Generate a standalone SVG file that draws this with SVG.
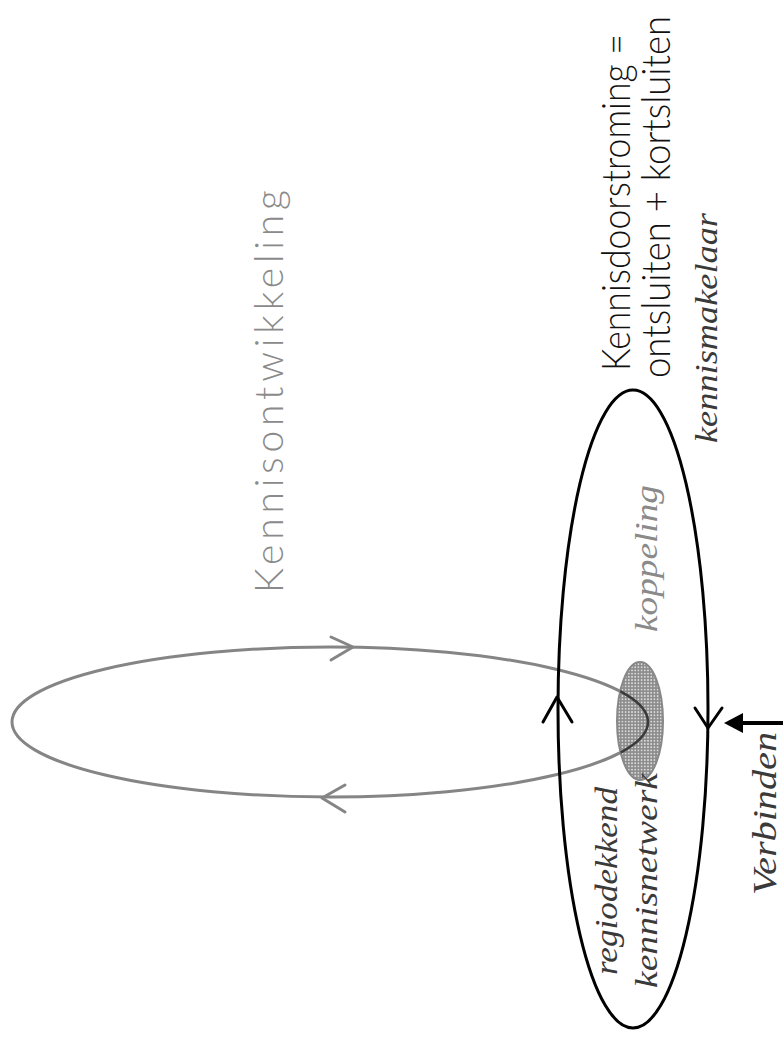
<svg xmlns="http://www.w3.org/2000/svg" width="783" height="1042" viewBox="0 0 783 1042">
<defs>
<pattern id="dots" width="3.2" height="3.2" patternUnits="userSpaceOnUse">
<rect width="3.2" height="3.2" fill="#8c8c8c"/>
<circle cx="1.6" cy="1.6" r="0.9" fill="#e8e8e8"/>
</pattern>
<clipPath id="smallClip"><ellipse cx="640" cy="721" rx="23" ry="59"/></clipPath>
</defs>
<style>
.sans{font-family:"Lato","Liberation Sans Narrow","DejaVu Sans Condensed",sans-serif;font-weight:300;font-size:39px;fill:#111}
.ital{font-family:"Liberation Serif","DejaVu Serif",serif;font-style:italic;fill:#3a3a3a}
.gray{fill:#8a8a8a}
.chev{fill:none;stroke-linecap:round;stroke-linejoin:round}
</style>
<rect width="783" height="1042" fill="#fff"/>
<g id="loop-ontwikkeling">
<ellipse cx="330" cy="722" rx="318" ry="75" fill="none" stroke="#858585" stroke-width="3"/>
<path class="chev" d="M331,637 L353,647 L331,660" stroke="#858585" stroke-width="3"/>
<path class="chev" d="M345,785 L322,798 L345,812" stroke="#858585" stroke-width="3"/>
</g>
<g id="koppeling-node">
<ellipse cx="640" cy="721" rx="23" ry="59" fill="url(#dots)" stroke="#888" stroke-width="2"/>
<ellipse cx="330" cy="722" rx="318" ry="75" fill="none" stroke="#3a3a3a" stroke-width="2.5" clip-path="url(#smallClip)"/>
</g>
<g id="loop-netwerk">
<ellipse cx="633" cy="709" rx="75" ry="319" fill="none" stroke="#000" stroke-width="3"/>
</g>
<g id="connectors">
<path class="chev" d="M543,722 L557,697 L572,722" stroke="#000" stroke-width="3"/>
<path class="chev" d="M695,708 L708,728 L722,708" stroke="#000" stroke-width="3"/>
<line x1="783" y1="723" x2="738" y2="723" stroke="#000" stroke-width="4"/>
<polygon points="724,723 743,713 743,733" fill="#000"/>
</g>
<g id="labels">
<text class="sans" transform="translate(630,371) rotate(-90)" textLength="337" lengthAdjust="spacingAndGlyphs">Kennisdoorstroming =</text>
<text class="sans" transform="translate(670,378) rotate(-90)" textLength="362" lengthAdjust="spacingAndGlyphs">ontsluiten + kortsluiten</text>
<text class="ital" font-size="32" transform="translate(717,443) rotate(-90)" textLength="230" lengthAdjust="spacingAndGlyphs">kennismakelaar</text>
<text class="ital gray" font-size="31" transform="translate(657,632) rotate(-90)" textLength="147" lengthAdjust="spacingAndGlyphs">koppeling</text>
<text class="sans gray" transform="translate(283,593) rotate(-90)" textLength="403" lengthAdjust="spacing">Kennisontwikkeling</text>
<text class="ital" font-size="32" transform="translate(617,975) rotate(-90)" textLength="188" lengthAdjust="spacingAndGlyphs">regiodekkend</text>
<text class="ital" font-size="32" transform="translate(657,988) rotate(-90)" textLength="215" lengthAdjust="spacingAndGlyphs">kennisnetwerk</text>
<text class="ital" font-size="34" transform="translate(776,895) rotate(-90)" textLength="163" lengthAdjust="spacingAndGlyphs">Verbinden</text>
</g>
</svg>
